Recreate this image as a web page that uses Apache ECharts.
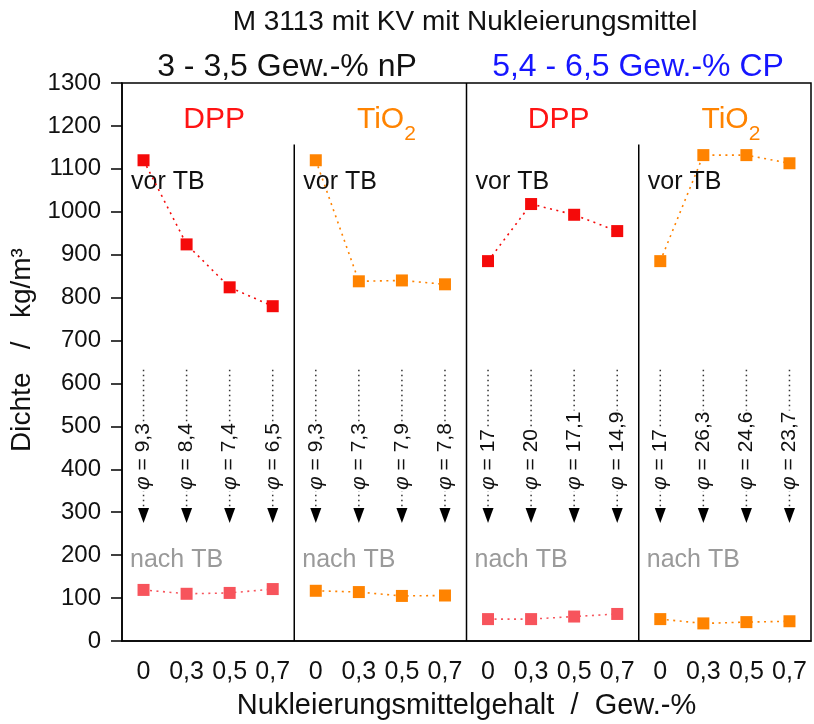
<!DOCTYPE html>
<html><head><meta charset="utf-8">
<script src="https://cdn.jsdelivr.net/npm/echarts@6/dist/echarts.min.js"></script>
<style>html,body{margin:0;padding:0;background:#fff}#c{width:814px;height:724px}</style>
</head><body><div id="c"></div>
<script>
// ---- data ----
const nucleatorContent = ['0', '0,3', '0,5', '0,7'];
const panelMaterials = ['DPP', 'TiO2', 'DPP', 'TiO2'];
const groupTitles = ['3 - 3,5 Gew.-% nP', '5,4 - 6,5 Gew.-% CP'];
// density before foaming (vor TB)
const dppNP_vor  = [1120, 924, 824, 780];
const tio2NP_vor = [1120, 838, 840, 831];
const dppCP_vor  = [885, 1018, 993, 955];
const tio2CP_vor = [885, 1132, 1132, 1113];
// density after foaming (nach TB)
const dppNP_nach  = [119, 110, 112, 121];
const tio2NP_nach = [117, 114, 105, 106];
const dppCP_nach  = [51, 51, 57, 63];
const tio2CP_nach = [51, 41, 44, 46];
// expansion ratios
const phiValues = ['9,3', '8,4', '7,4', '6,5', '9,3', '7,3', '7,9', '7,8',
                   '17', '20', '17,1', '14,9', '17', '26,3', '24,6', '23,7'];

// ---- layout constants (data units) ----
const ARROW_TOP = 632, ARROW_TIP = 275;
const LABEL_Y = 1214, VOR_Y = 1069, NACH_Y = 189, SEP_TOP = 1157;

const FONT = '"Liberation Sans", Arial, Helvetica, sans-serif';
const RED = '#f50a0a', RED_LIGHT = '#f7545c', ORANGE = '#ff8300';

const categories = [];
for (let p = 0; p < 4; p++) nucleatorContent.forEach(c => categories.push(c));

function place(arr, panel) {
  const out = new Array(16).fill(null);
  arr.forEach((v, i) => { out[panel * 4 + i] = v; });
  return out;
}

function lineSeries(name, arr, panel, color) {
  return {
    name, type: 'line', data: place(arr, panel),
    symbol: 'rect', symbolSize: 12, connectNulls: false,
    itemStyle: { color },
    lineStyle: { color, width: 1.6, type: [2, 4.5] },
    z: 5
  };
}

const chart = echarts.init(document.getElementById('c'), null, { renderer: 'canvas' });

const option = {
  animation: false,
  backgroundColor: '#fff',
  title: [
    { text: 'M 3113 mit KV mit Nukleierungsmittel', left: 465, top: 8, textAlign: 'center', padding: 0,
      textStyle: { fontSize: 28, fontWeight: 'normal', color: '#111', fontFamily: FONT } },
    { text: groupTitles[0], left: 287, top: 51, textAlign: 'center', padding: 0,
      textStyle: { fontSize: 32, fontWeight: 'normal', color: '#111', fontFamily: FONT } },
    { text: groupTitles[1], left: 638, top: 51, textAlign: 'center', padding: 0,
      textStyle: { fontSize: 32, fontWeight: 'normal', color: '#1616ff', fontFamily: FONT } }
  ],
  grid: { left: 122, right: 3, top: 83, bottom: 83, containLabel: false, outerBoundsMode: 'none',
          show: true, borderColor: '#000', borderWidth: 1.5 },
  xAxis: {
    type: 'category', data: categories, boundaryGap: true,
    name: 'Nukleierungsmittelgehalt  /  Gew.-%', nameLocation: 'middle', nameGap: 50,
    nameTextStyle: { fontSize: 29, color: '#111', fontFamily: FONT },
    axisLine: { lineStyle: { color: '#000', width: 1.5 } },
    axisTick: { alignWithLabel: true, length: 11, lineStyle: { color: '#000', width: 1.5 } },
    axisLabel: { interval: 0, fontSize: 25, color: '#111', fontFamily: FONT, margin: 19 },
    splitLine: { show: false }
  },
  yAxis: {
    type: 'value', min: 0, max: 1300, interval: 100,
    name: 'Dichte   /   kg/m³', nameLocation: 'middle', nameGap: 79,
    nameTextStyle: { fontSize: 28, color: '#111', fontFamily: FONT, padding: [0, 0, 0, 24] },
    axisLine: { show: true, lineStyle: { color: '#000', width: 1.5 } },
    axisTick: { show: true, length: 11, lineStyle: { color: '#000', width: 1.5 } },
    axisLabel: { fontSize: 24, color: '#111', fontFamily: FONT, margin: 21,
                 formatter: v => String(v) },
    splitLine: { show: false }
  },
  series: [
    lineSeries('DPP nP vor TB', dppNP_vor, 0, RED),
    lineSeries('TiO2 nP vor TB', tio2NP_vor, 1, ORANGE),
    lineSeries('DPP CP vor TB', dppCP_vor, 2, RED),
    lineSeries('TiO2 CP vor TB', tio2CP_vor, 3, ORANGE),
    lineSeries('DPP nP nach TB', dppNP_nach, 0, RED_LIGHT),
    lineSeries('TiO2 nP nach TB', tio2NP_nach, 1, ORANGE),
    lineSeries('DPP CP nach TB', dppCP_nach, 2, RED_LIGHT),
    lineSeries('TiO2 CP nach TB', tio2CP_nach, 3, ORANGE),
    {
      name: 'arrows', type: 'custom', z: 3,
      data: phiValues.map((s, i) => [i, ARROW_TOP]),
      renderItem: function (params, api) {
        const i = api.value(0);
        const top = api.coord([i, ARROW_TOP]);
        const tip = api.coord([i, ARROW_TIP]);
        const x = top[0];
        const head = 15, hw = 5.5;
        return {
          type: 'group', children: [
            { type: 'line', shape: { x1: x, y1: top[1], x2: x, y2: tip[1] - head },
              style: { stroke: '#333', lineWidth: 1.5, lineDash: [1.5, 3.5] } },
            { type: 'polygon', shape: { points: [[x - hw, tip[1] - head], [x + hw, tip[1] - head], [x, tip[1]]] },
              style: { fill: '#000' } },
            { type: 'text', x: x, y: tip[1] - 32, rotation: Math.PI / 2, z2: 10,
              style: {
                text: '{p|φ} = ' + phiValues[params.dataIndex],
                rich: { p: { fontStyle: 'italic', fontSize: 21, fontFamily: FONT, fill: '#111' } },
                fontSize: 21, fontFamily: FONT, fill: '#111',
                align: 'left', verticalAlign: 'middle',
                backgroundColor: '#fff', padding: [0, 1, 0, 1]
              } }
          ]
        };
      }
    },
    {
      name: 'panels', type: 'custom', z: 4,
      data: panelMaterials.map((m, p) => [p * 4, 0]),
      renderItem: function (params, api) {
        const p = params.dataIndex;
        const first = p * 4;
        const band = api.size([1, 0])[0];
        const x0 = api.coord([first, 0])[0] - band / 2;
        const yBottom = api.coord([first, 0])[1];
        const isDpp = panelMaterials[p] === 'DPP';
        const children = [];
        if (p > 0) {
          const yt = api.coord([first, p === 2 ? 1300 : SEP_TOP])[1];
          children.push({ type: 'line', shape: { x1: x0, y1: yt, x2: x0, y2: yBottom },
            style: { stroke: '#000', lineWidth: 1.5 } });
        }
        children.push({ type: 'text', x: x0 + band * 2 + 6, y: api.coord([first, LABEL_Y])[1],
          style: {
            text: isDpp ? 'DPP' : 'TiO{s|2}',
            rich: { s: { fontSize: 21, fontFamily: FONT, fill: ORANGE, padding: [28, 0, 0, 0] } },
            fontSize: 30, fontFamily: FONT, fill: isDpp ? '#ff1414' : ORANGE,
            align: 'center', verticalAlign: 'middle'
          } });
        children.push({ type: 'text', x: x0 + 9, y: api.coord([first, VOR_Y])[1],
          style: { text: 'vor TB', fontSize: 25, fontFamily: FONT, fill: '#111', align: 'left', verticalAlign: 'middle' } });
        children.push({ type: 'text', x: x0 + 8, y: api.coord([first, NACH_Y])[1],
          style: { text: 'nach TB', fontSize: 25, fontFamily: FONT, fill: '#9a9a9a', align: 'left', verticalAlign: 'middle' } });
        return { type: 'group', children };
      }
    }
  ]
};
chart.setOption(option);
</script>
</body></html>
